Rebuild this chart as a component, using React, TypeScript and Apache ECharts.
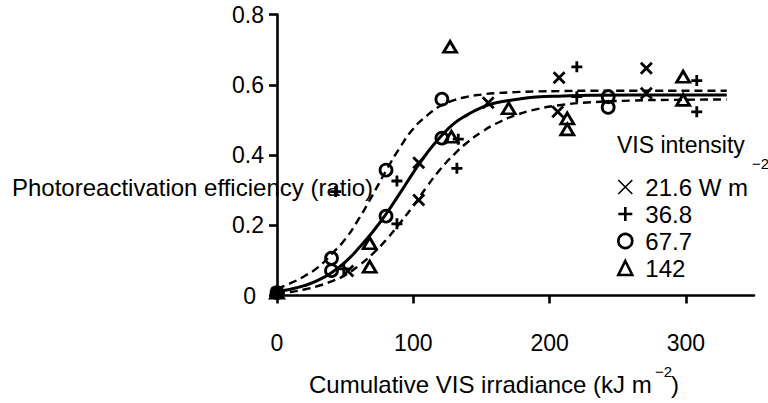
import React, { useEffect, useRef } from "react";
import * as echarts from "echarts";

// ---- data ----
const xTickValues = [0, 100, 200, 300];
const yTickValues = [0, 0.2, 0.4, 0.6, 0.8];

const seriesNames = ["21.6", "36.8", "67.7", "142"];
const legendLabels = ["21.6 W m", "36.8", "67.7", "142"];

const pts216: [number, number][] = [
  [0, 0.008], [52, 0.07], [104, 0.378], [104, 0.272], [155, 0.549],
  [207, 0.62], [206, 0.523], [271, 0.647], [271, 0.576],
];
const pts368: [number, number][] = [
  [0, 0.008], [49, 0.076], [43, 0.296], [88, 0.326], [88, 0.204],
  [133, 0.445], [132, 0.362], [220, 0.651], [220, 0.566], [308, 0.612], [308, 0.523],
];
const pts677: [number, number][] = [
  [0, 0.008], [40, 0.106], [40, 0.071], [80, 0.357], [80, 0.226],
  [121, 0.448], [121, 0.559], [243, 0.566], [243, 0.536],
];
const pts142: [number, number][] = [
  [0, 0.008], [68, 0.149], [68, 0.082], [128, 0.452], [127, 0.708],
  [170, 0.533], [213, 0.504], [213, 0.473], [298, 0.623], [298, 0.557],
];

const fitX = [0, 10, 20, 30, 40, 50, 60, 70, 80, 90, 100, 110, 120, 130, 140, 150, 160, 175, 190, 210, 230, 260, 290, 330];
const fitMid = [0.012, 0.018, 0.028, 0.043, 0.065, 0.095, 0.135, 0.18, 0.232, 0.29, 0.35, 0.405, 0.452, 0.49, 0.515, 0.535, 0.548, 0.558, 0.565, 0.568, 0.57, 0.571, 0.571, 0.571];
const fitUpper = [0.02, 0.035, 0.055, 0.08, 0.118, 0.16, 0.218, 0.285, 0.355, 0.42, 0.475, 0.512, 0.54, 0.556, 0.566, 0.572, 0.576, 0.579, 0.581, 0.582, 0.583, 0.583, 0.583, 0.583];
const fitLower = [0.005, 0.01, 0.017, 0.027, 0.04, 0.058, 0.085, 0.118, 0.158, 0.205, 0.255, 0.31, 0.36, 0.402, 0.437, 0.465, 0.488, 0.513, 0.53, 0.543, 0.55, 0.555, 0.557, 0.558];

const FONT = "'Liberation Sans', Arial, Helvetica, sans-serif";
const CROSS = "path://M0,0L10,10M10,0L0,10";
const PLUS = "path://M5,0L5,10M0,5L10,5";

export default function App() {
  const ref = useRef<HTMLDivElement>(null);

  useEffect(() => {
    if (!ref.current) return;
    const chart = echarts.init(ref.current, undefined, { renderer: "svg" });

    const markerStyle = {
      color: "rgba(0,0,0,0)",
      borderColor: "#000",
      borderWidth: 2.8,
      opacity: 1,
    };
    const zip = (ys: number[]) => fitX.map((x, i) => [x, ys[i]]);

    const option: any = {
      animation: false,
      backgroundColor: "#fff",
      textStyle: { fontFamily: FONT, color: "#000" },
      grid: { left: 277, top: 14.5, width: 477, height: 281, containLabel: false },
      xAxis: {
        type: "value",
        min: 0,
        max: 350,
        interval: 100,
        axisLine: { show: true, lineStyle: { color: "#000", width: 2.6 } },
        axisTick: {
          show: true,
          length: 8,
          lineStyle: { color: "#000", width: 2.6 },
          customValues: xTickValues,
        },
        axisLabel: {
          margin: 36,
          fontSize: 23,
          color: "#000",
          fontFamily: FONT,
          customValues: xTickValues,
        },
        splitLine: { show: false },
      },
      yAxis: {
        type: "value",
        min: 0,
        max: 0.8,
        interval: 0.2,
        axisLine: { show: true, lineStyle: { color: "#000", width: 2.6 } },
        axisTick: {
          show: true,
          length: 8,
          lineStyle: { color: "#000", width: 2.6 },
          customValues: yTickValues,
        },
        axisLabel: {
          margin: 13,
          fontSize: 23,
          color: "#000",
          fontFamily: FONT,
          customValues: yTickValues,
          formatter: (v: number) => (v === 0 ? "{z|0}" : v.toFixed(1)),
          rich: { z: { fontSize: 23, fontFamily: FONT, color: "#000", padding: [0, 8, 0, 0] } },
        },
        splitLine: { show: false },
      },
      legend: {
        orient: "vertical",
        left: 612,
        top: 170,
        itemWidth: 14,
        itemHeight: 14,
        itemGap: 3,
        selectedMode: false,
        itemStyle: { color: "rgba(0,0,0,0)", borderColor: "#000", borderWidth: 2.6 },
        textStyle: { fontSize: 24, color: "#000", fontFamily: FONT, padding: [0, 0, 0, 8] },
        formatter: (name: string) => legendLabels[seriesNames.indexOf(name)],
        data: [
          { name: seriesNames[0], icon: CROSS, itemStyle: { color: "rgba(0,0,0,0)", borderColor: "#000", borderWidth: 1.6 } },
          { name: seriesNames[1], icon: PLUS },
          { name: seriesNames[2], icon: "circle" },
          { name: seriesNames[3], icon: "triangle" },
        ],
      },
      graphic: [
        {
          type: "text",
          x: 12,
          y: 187,
          z: -1,
          style: { text: "Photoreactivation efficiency (ratio)", font: `24px ${FONT}`, fill: "#000", textAlign: "left", textVerticalAlign: "middle" },
        },
        {
          type: "text",
          x: 309,
          y: 384,
          style: { text: "Cumulative VIS irradiance (kJ m", font: `24px ${FONT}`, fill: "#000", textAlign: "left", textVerticalAlign: "middle" },
        },
        {
          type: "text",
          x: 655,
          y: 371,
          style: { text: "\u22122", font: `15px ${FONT}`, fill: "#000", textAlign: "left", textVerticalAlign: "middle" },
        },
        {
          type: "text",
          x: 671,
          y: 384,
          style: { text: ")", font: `24px ${FONT}`, fill: "#000", textAlign: "left", textVerticalAlign: "middle" },
        },
        {
          type: "text",
          x: 617,
          y: 145,
          style: { text: "VIS intensity", font: `23px ${FONT}`, fill: "#000", textAlign: "left", textVerticalAlign: "middle" },
        },
        {
          type: "text",
          x: 752,
          y: 163,
          style: { text: "\u22122", font: `15px ${FONT}`, fill: "#000", textAlign: "left", textVerticalAlign: "middle" },
        },
      ],
      series: [
        {
          type: "line",
          data: zip(fitUpper),
          smooth: true,
          showSymbol: false,
          symbol: "none",
          silent: true,
          lineStyle: { color: "#000", width: 2.4, type: [8, 5] },
          z: 1,
        },
        {
          type: "line",
          data: zip(fitLower),
          smooth: true,
          showSymbol: false,
          symbol: "none",
          silent: true,
          lineStyle: { color: "#000", width: 2.4, type: [8, 5] },
          z: 1,
        },
        {
          type: "line",
          data: zip(fitMid),
          smooth: true,
          showSymbol: false,
          symbol: "none",
          silent: true,
          lineStyle: { color: "#000", width: 3 },
          z: 1,
        },
        {
          name: seriesNames[0],
          type: "scatter",
          data: pts216,
          symbol: CROSS,
          symbolSize: 11,
          itemStyle: markerStyle,
          z: 3,
        },
        {
          name: seriesNames[1],
          type: "scatter",
          data: pts368,
          symbol: PLUS,
          symbolSize: 11,
          itemStyle: markerStyle,
          z: 3,
        },
        {
          name: seriesNames[2],
          type: "scatter",
          data: pts677,
          symbol: "circle",
          symbolSize: 12,
          itemStyle: markerStyle,
          z: 3,
        },
        {
          name: seriesNames[3],
          type: "scatter",
          data: pts142,
          symbol: "triangle",
          symbolSize: [13, 11],
          itemStyle: markerStyle,
          z: 3,
        },
      ],
    };

    chart.setOption(option);
    return () => chart.dispose();
  }, []);

  return (
    <div
      ref={ref}
      style={{ position: "fixed", left: 0, top: 0, width: 768, height: 403, background: "#fff" }}
    />
  );
}
